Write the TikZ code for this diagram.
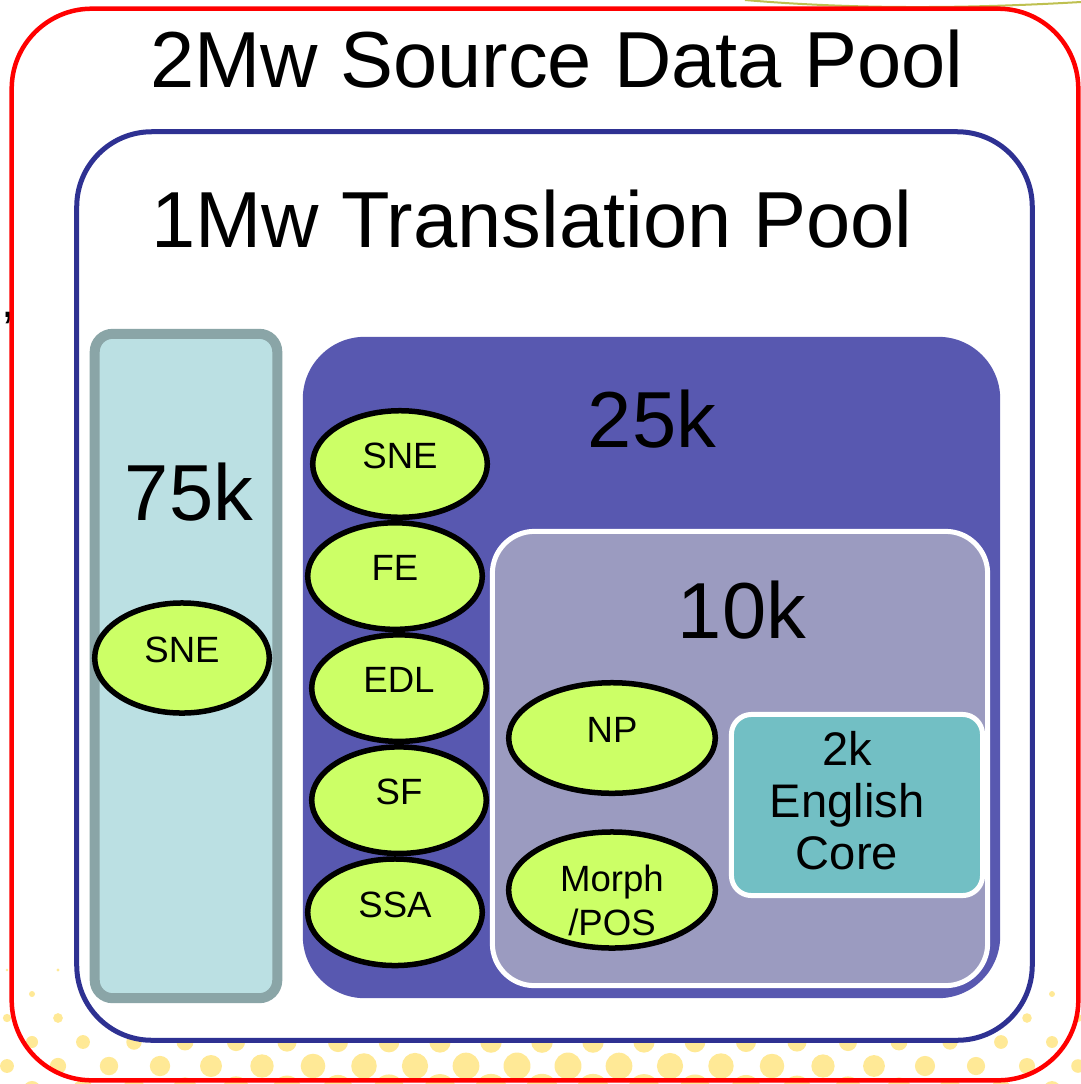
\documentclass[tikz,border=0pt]{standalone}
\usepackage{fontspec}
\setmainfont{Liberation Sans}
\usetikzlibrary{positioning,shapes.geometric}
\definecolor{PoolRed}{RGB}{255,0,0}
\definecolor{PoolNavy}{RGB}{46,49,146}
\definecolor{ColFill}{RGB}{187,224,227}
\definecolor{ColEdge}{RGB}{138,165,167}
\definecolor{MidPurple}{RGB}{88,88,176}
\definecolor{InnerLilac}{RGB}{155,155,192}
\definecolor{CoreTeal}{RGB}{114,191,196}
\definecolor{FeatGreen}{RGB}{204,255,102}
\definecolor{DotYellow}{RGB}{255,233,150}
\definecolor{ArcOlive}{RGB}{190,192,80}
\tikzset{
  bigtext/.style={font=\fontsize{22.6}{27}\selectfont,anchor=base,inner sep=0pt},
  poolbox/.style={rectangle,line width=0.05cm,inner sep=0pt},
  whitebox/.style={poolbox,draw=white},
  feat/.style={ellipse,draw=black,fill=FeatGreen,line width=0.055cm,inner sep=0pt,
    minimum width=1.745cm,minimum height=1.065cm,text depth=0.16cm,
    font=\fontsize{10.4}{12.5}\selectfont,align=center}
}

\begin{document}
\begin{tikzpicture}[x=0.01cm,y=-0.01cm]
  \useasboundingbox (0,0) rectangle (1081,1084);
  \foreach \k in {0,...,5}{
    \foreach \i in {0,...,21}{
      \pgfmathsetmacro{\dx}{7+51*\i+25*(1-mod(\k,2))}
      \pgfmathsetmacro{\dy}{1090-24*\k}
      \pgfmathsetmacro{\dr}{max(0,(16.2-2.7*\k)*(1-0.5*((\dx-540)/540)^2))}
      \fill[DotYellow] (\dx,\dy) circle[radius=\dr*0.01cm];
    }
  }
  \draw[ArcOlive,line width=0.02cm] (745,0) .. controls (850,9) and (960,9) .. (1081,2);
  \node[font=\fontsize{14}{14}\selectfont,anchor=base west,inner sep=0pt] (comma) at (1,317) {,};
  \node[poolbox,draw=PoolRed,line width=0.045cm,rounded corners=0.8cm,
    minimum width=10.66cm,minimum height=10.71cm] (source) at (545,544.5) {};
  \node[poolbox,draw=PoolNavy,fill=white,rounded corners=0.75cm,
    minimum width=9.55cm,minimum height=9.08cm] (trans) at (554.5,586) {};
  \node[poolbox,draw=ColEdge,fill=ColFill,line width=0.1cm,rounded corners=0.18cm,
    minimum width=1.825cm,minimum height=6.64cm] (col) at (186,666) {};
  \node[poolbox,fill=MidPurple,rounded corners=0.62cm,
    minimum width=6.97cm,minimum height=6.61cm] (mid) at (651.5,667.5) {};
  \node[whitebox,fill=InnerLilac,rounded corners=0.42cm,
    minimum width=4.95cm,minimum height=4.54cm] (inner) at (740,758.5) {};
  \node[whitebox,fill=CoreTeal,rounded corners=0.2cm,
    minimum width=2.51cm,minimum height=1.81cm] (core) at (857,805) {};
  \node[bigtext] (srctitle) at (557,87) {2Mw Source Data Pool};
  \node[bigtext] (transtitle) at (532,247) {1Mw Translation Pool};
  \node[bigtext] (colnum) at (189,520) {75k};
  \node[bigtext] (midnum) at (652,447) {25k};
  \node[bigtext] (innernum) at (742,638) {10k};
  \node[font=\fontsize{13.4}{14.8}\selectfont,align=center] (coretext) at (847,801) {2k\\English\\Core};
  \node[feat,minimum height=1.1cm] (colsne) at (182,658) {SNE};
  \node[feat] (sne) at (400,464) {SNE};
  \node[feat,below=0cm of sne,xshift=-0.05cm] (fe) {FE};
  \node[feat,below=0cm of fe,xshift=0.04cm] (edl) {EDL};
  \node[feat,below=0cm of edl] (sf) {SF};
  \node[feat,below=0cm of sf,xshift=-0.04cm] (ssa) {SSA};
  \node[feat,minimum width=2.065cm,minimum height=1.105cm] (np) at (612,738) {NP};
  \node[feat,minimum width=2.065cm,minimum height=1.16cm] (morph) at (612,890) {};
  \node[font=\fontsize{10.4}{12.5}\selectfont,align=center,inner sep=0pt] (morphtext) at (612,900) {Morph\\/POS};
\end{tikzpicture}
\end{document}
